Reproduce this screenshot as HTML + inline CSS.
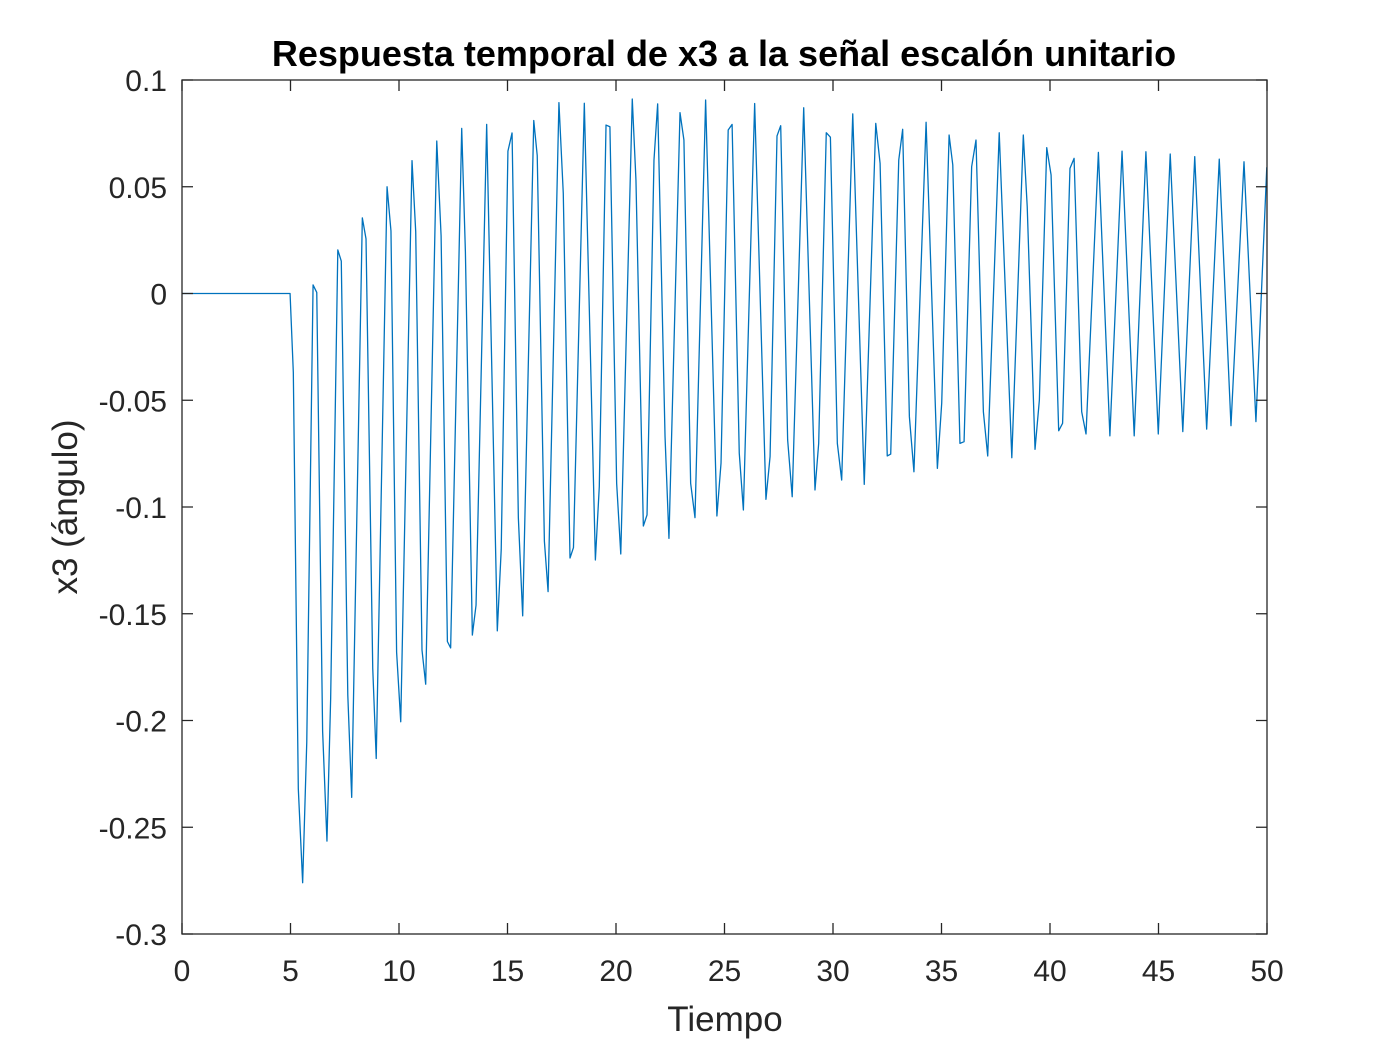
<!DOCTYPE html>
<html>
<head>
<meta charset="utf-8">
<style>
html,body{margin:0;padding:0;background:#fff;}
svg{display:block;}
text{font-family:"Liberation Sans",Arial,sans-serif;}
</style>
</head>
<body>
<svg id="chart" width="1400" height="1050" viewBox="0 0 1400 1050" xmlns="http://www.w3.org/2000/svg">
  <rect x="0" y="0" width="1400" height="1050" fill="#fff"/>
  <rect x="182" y="80" width="1085" height="854" fill="#fff"/>
  <g id="series"></g>
  <g id="axes"></g>
  <text x="724" y="66" text-anchor="middle" font-size="36" font-weight="bold" fill="#000">Respuesta temporal de x3 a la señal escalón unitario</text>
  <text x="725" y="1031" text-anchor="middle" font-size="35" fill="#262626">Tiempo</text>
  <text x="0" y="0" transform="translate(77,507) rotate(-90)" text-anchor="middle" font-size="35" fill="#262626">x3 (ángulo)</text>
</svg>
<script>
const xTicks = [0, 5, 10, 15, 20, 25, 30, 35, 40, 45, 50];
const yTicks = [0.1, 0.05, 0, -0.05, -0.1, -0.15, -0.2, -0.25, -0.3];
const yTickLabels = ["0.1", "0.05", "0", "-0.05", "-0.1", "-0.15", "-0.2", "-0.25", "-0.3"];
const times = [0,4.98,5.13,5.36,5.56,5.75,6.04,6.21,6.48,6.68,6.85,7.18,7.34,7.64,7.82,8.31,8.48,8.79,8.95,9.45,9.63,9.89,10.08,10.6,10.77,11.06,11.23,11.74,11.94,12.23,12.38,12.89,13.06,13.38,13.55,14.04,14.53,14.71,15.02,15.21,15.5,15.7,16.21,16.37,16.7,16.87,17.37,17.57,17.88,18.04,18.54,19.05,19.23,19.54,19.72,20.03,20.22,20.75,20.92,21.26,21.43,21.75,21.92,22.26,22.44,22.95,23.13,23.44,23.64,24.13,24.65,24.84,25.17,25.35,25.68,25.87,26.39,26.91,27.1,27.42,27.59,27.91,28.12,28.65,29.17,29.34,29.69,29.88,30.2,30.4,30.91,31.44,31.97,32.17,32.5,32.66,33.03,33.21,33.52,33.73,34.29,34.81,35.01,35.35,35.52,35.85,36.04,36.39,36.59,36.93,37.13,37.66,38.24,38.77,38.95,39.31,39.51,39.85,40.05,40.4,40.58,40.92,41.11,41.46,41.66,42.23,42.76,43.32,43.88,44.42,44.99,45.54,46.12,46.67,47.22,47.8,48.34,48.94,49.49,49.99];
const values = [0,0,-0.037,-0.232,-0.276,-0.21,0.004,0.0005,-0.205,-0.2565,-0.19,0.0204,0.0152,-0.188,-0.236,0.0354,0.0256,-0.1756,-0.2178,0.05,0.0293,-0.168,-0.2006,0.0622,0.029,-0.167,-0.183,0.0714,0.027,-0.163,-0.166,0.0773,0.0195,-0.160,-0.146,0.0792,-0.158,-0.12,0.0667,0.0752,-0.105,-0.151,0.081,0.0646,-0.116,-0.1396,0.0894,0.047,-0.1239,-0.119,0.0891,-0.1248,-0.0905,0.0789,0.0781,-0.0889,-0.122,0.0911,0.053,-0.1089,-0.1037,0.0625,0.0888,-0.067,-0.1147,0.0847,0.0719,-0.0889,-0.105,0.0906,-0.1042,-0.0794,0.0766,0.0792,-0.0748,-0.1014,0.089,-0.0964,-0.0764,0.0738,0.0786,-0.0686,-0.0952,0.087,-0.092,-0.0702,0.0753,0.0732,-0.0702,-0.0874,0.0841,-0.0894,0.0797,0.061,-0.0761,-0.0752,0.0625,0.0769,-0.0577,-0.0835,0.0802,-0.0819,-0.0513,0.0742,0.0602,-0.0702,-0.0694,0.0594,0.0719,-0.0554,-0.0761,0.0753,-0.0769,0.0742,0.0407,-0.073,-0.0499,0.0683,0.0555,-0.0643,-0.0608,0.0586,0.0633,-0.0554,-0.0658,0.0661,-0.0667,0.0667,-0.0667,0.0664,-0.0658,0.0653,-0.0647,0.0641,-0.0635,0.0629,-0.0619,0.0617,-0.06,0.0591];

const X0 = 182, X1 = 1267, Y0 = 934, Y1 = 80;
const xMin = 0, xMax = 50, yMin = -0.3, yMax = 0.1;
function sx(t){ return X0 + (t - xMin) / (xMax - xMin) * (X1 - X0); }
function sy(v){ return Y0 - (v - yMin) / (yMax - yMin) * (Y0 - Y1); }
const NS = "http://www.w3.org/2000/svg";

const series = document.getElementById('series');
let d = '';
for (let i = 0; i < times.length; i++) {
  d += (i ? 'L' : 'M') + sx(times[i]).toFixed(2) + ' ' + sy(values[i]).toFixed(2);
}
const path = document.createElementNS(NS, 'path');
path.setAttribute('d', d);
path.setAttribute('fill', 'none');
path.setAttribute('stroke', '#0072BD');
path.setAttribute('stroke-width', '1.3');
path.setAttribute('stroke-linejoin', 'round');


series.appendChild(path);

const axes = document.getElementById('axes');
const box = document.createElementNS(NS, 'rect');
box.setAttribute('x', X0); box.setAttribute('y', Y1);
box.setAttribute('width', X1 - X0); box.setAttribute('height', Y0 - Y1);
box.setAttribute('fill', 'none'); box.setAttribute('stroke', '#262626'); box.setAttribute('stroke-width', '1.3');


axes.appendChild(box);

const TL = 11;
xTicks.forEach(function(t){
  const x = sx(t);
  const tk = document.createElementNS(NS, 'path');
  tk.setAttribute('d', 'M' + x + ' ' + Y0 + 'V' + (Y0 - TL) + 'M' + x + ' ' + Y1 + 'V' + (Y1 + TL));
  tk.setAttribute('stroke', '#262626'); tk.setAttribute('stroke-width', '1.3');
  
  
  axes.appendChild(tk);
  const lb = document.createElementNS(NS, 'text');
  lb.setAttribute('x', x); lb.setAttribute('y', 981);
  lb.setAttribute('text-anchor', 'middle'); lb.setAttribute('font-size', '30'); lb.setAttribute('fill', '#262626');
  lb.textContent = String(t);
  
  
  axes.appendChild(lb);
});
yTicks.forEach(function(v, i){
  const y = sy(v);
  const tk = document.createElementNS(NS, 'path');
  tk.setAttribute('d', 'M' + X0 + ' ' + y + 'H' + (X0 + TL) + 'M' + X1 + ' ' + y + 'H' + (X1 - TL));
  tk.setAttribute('stroke', '#262626'); tk.setAttribute('stroke-width', '1.3');
  
  
  axes.appendChild(tk);
  const lb = document.createElementNS(NS, 'text');
  lb.setAttribute('x', 167); lb.setAttribute('y', y + 11);
  lb.setAttribute('text-anchor', 'end'); lb.setAttribute('font-size', '30'); lb.setAttribute('fill', '#262626');
  lb.textContent = yTickLabels[i];
  
  
  axes.appendChild(lb);
});
</script>
</body>
</html>
